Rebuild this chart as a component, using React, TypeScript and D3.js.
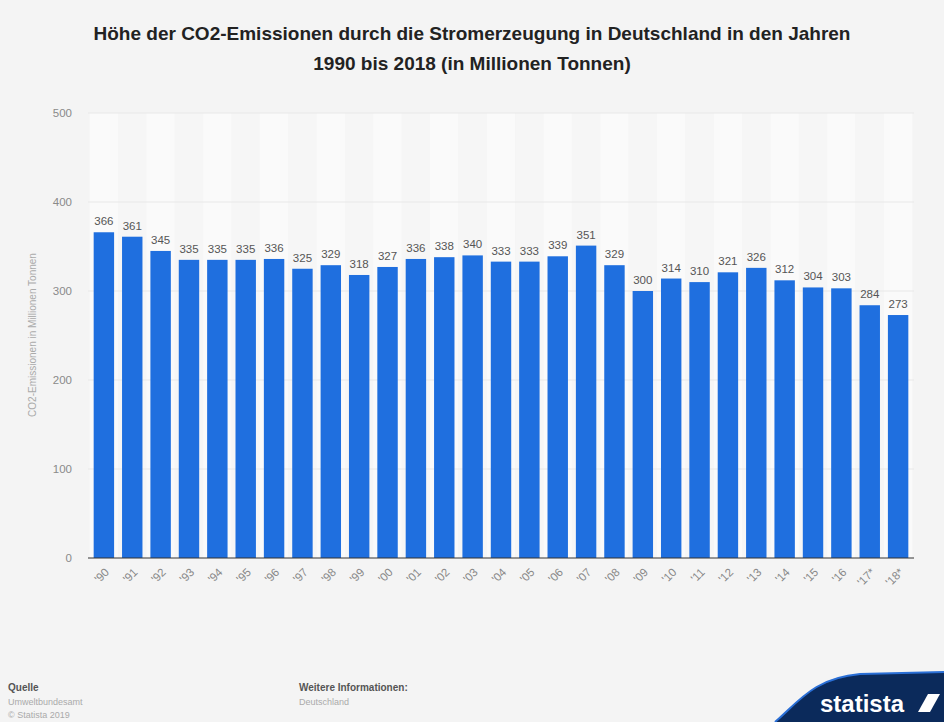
import React from "react";
import * as d3 from "d3";

const years = ["'90","'91","'92","'93","'94","'95","'96","'97","'98","'99","'00","'01","'02","'03","'04","'05","'06","'07","'08","'09","'10","'11","'12","'13","'14","'15","'16","'17*","'18*"];
const values = [366,361,345,335,335,335,336,325,329,318,327,336,338,340,333,333,339,351,329,300,314,310,321,326,312,304,303,284,273];
const yTicks = [0,100,200,300,400,500];

const W = 944, H = 722;
const FONT = "'Liberation Sans', Arial, sans-serif";

export default function App() {
  const x = d3.scaleBand<string>().domain(years).range([88, 914]).paddingInner(0.28).paddingOuter(0.2);
  const y = d3.scaleLinear().domain([0, 500]).range([558, 113]);
  const step = x.step();
  const bw = x.bandwidth();
  const pad = (step - bw) / 2;
  return (
    <svg width={W} height={H} style={{ position: "absolute", left: 0, top: 0, background: "#f4f4f4" }}>
      <rect x={0} y={0} width={W} height={H} fill="#f4f4f4" />
      <text x={472} y={40} textAnchor="middle" fontFamily={FONT} fontWeight="bold" fontSize={19} fill="#222">Höhe der CO2-Emissionen durch die Stromerzeugung in Deutschland in den Jahren</text>
      <text x={472} y={70} textAnchor="middle" fontFamily={FONT} fontWeight="bold" fontSize={19} fill="#222">1990 bis 2018 (in Millionen Tonnen)</text>
      {years.map((yr, i) => (
        <rect key={"bg" + yr} x={(x(yr) as number) - pad} y={y(500)} width={step} height={y(0) - y(500)} fill={i % 2 === 0 ? "#fafafa" : "#f6f6f6"} />
      ))}
      {yTicks.map(t => (
        <g key={"t" + t}>
          {t > 0 && <line x1={88} x2={914} y1={y(t)} y2={y(t)} stroke="#e8e8e8" strokeWidth={1} />}
          <text x={72} y={y(t) + 4} textAnchor="end" fontFamily={FONT} fontSize={11.5} fill="#8a8a8a">{t}</text>
        </g>
      ))}
      <text transform={`translate(36,${335}) rotate(-90)`} textAnchor="middle" fontFamily={FONT} fontSize={10} fill="#aaa">CO2-Emissionen in Millionen Tonnen</text>
      {years.map((yr, i) => (
        <rect key={"b" + yr} x={x(yr)} y={y(values[i])} width={bw} height={y(0) - y(values[i])} fill="#1f6fdf" />
      ))}
      {years.map((yr, i) => (
        <text key={"v" + yr} x={(x(yr) as number) + bw / 2} y={y(values[i]) - 7} textAnchor="middle" fontFamily={FONT} fontSize={11.5} fill="#555">{values[i]}</text>
      ))}
      <line x1={88} x2={914} y1={y(0)} y2={y(0)} stroke="#333" strokeWidth={1.2} />
      {years.map((yr) => (
        <text key={"x" + yr} transform={`translate(${(x(yr) as number) + bw / 2 + 6},${573}) rotate(-45)`} textAnchor="end" fontFamily={FONT} fontSize={11.5} fill="#888">{yr}</text>
      ))}
      <text x={8} y={691} fontFamily={FONT} fontSize={10} fontWeight="bold" fill="#555">Quelle</text>
      <text x={8} y={705} fontFamily={FONT} fontSize={9} fill="#aaa">Umweltbundesamt</text>
      <text x={8} y={718} fontFamily={FONT} fontSize={9} fill="#aaa">© Statista 2019</text>
      <text x={299} y={691} fontFamily={FONT} fontSize={10} fontWeight="bold" fill="#555">Weitere Informationen:</text>
      <text x={299} y={705} fontFamily={FONT} fontSize={9} fill="#aaa">Deutschland</text>
      <path d="M775,722 C800,700 815,678 860,674 L944,672 L944,722 Z" fill="#0b2a5b" />
      <path d="M775,722 C800,700 815,678 860,674 L944,672" fill="none" stroke="#2a6fd6" strokeWidth={2} />
      <text x={820} y={712} fontFamily={FONT} fontSize={24} fontWeight="bold" fill="#ffffff">statista</text>
      <path d="M918,712 L928,694 L940,694 L930,712 Z" fill="#ffffff" />
    </svg>
  );
}
